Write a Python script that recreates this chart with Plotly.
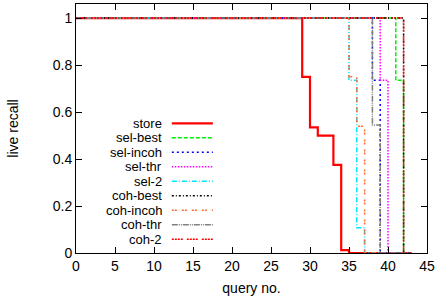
import plotly.graph_objects as go

# Step-change points (query no., live recall) for each series
store_x = [0, 29, 30, 31, 33, 34, 35, 43]
store_y = [1, 0.75, 0.535, 0.5, 0.375, 0.012, 0, 0]
selbest_x = [0, 41, 42, 43]
selbest_y = [1, 0.735, 0, 0]
selincoh_x = [0, 38, 39, 43]
selincoh_y = [1, 0.735, 0, 0]
selthr_x = [0, 39, 40, 43]
selthr_y = [1, 0.735, 0, 0]
sel2_x = [0, 35, 36, 37, 43]
sel2_y = [1, 0.735, 0.108, 0, 0]
cohbest_x = [0, 42, 43]
cohbest_y = [1, 0, 0]
cohincoh_x = [0, 35, 36, 37, 43]
cohincoh_y = [1, 0.75, 0.54, 0, 0]
cohthr_x = [0, 38, 39, 43]
cohthr_y = [1, 0.545, 0, 0]
coh2_x = [0, 42, 43]
coh2_y = [1, 0, 0]

names = ["store", "sel-best", "sel-incoh", "sel-thr", "sel-2",
         "coh-best", "coh-incoh", "coh-thr", "coh-2"]
xs = [store_x, selbest_x, selincoh_x, selthr_x, sel2_x,
      cohbest_x, cohincoh_x, cohthr_x, coh2_x]
ys = [store_y, selbest_y, selincoh_y, selthr_y, sel2_y,
      cohbest_y, cohincoh_y, cohthr_y, coh2_y]
colors = ["#ff0000", "#00ee00", "#0000ff", "#ff00ff", "#00e5ff",
          "#000000", "#ff6a2a", "#808080", "#ff0000"]
dashes = ["solid", "4px,2px", "2px,3px", "1.5px,1.5px", "5px,2px,1px,2px",
          "2px,2px,1px,2px", "2px,1px,2px,5px", "6px,1px,1px,1px,1px,1px",
          "2px,1px,2px,1px,2px,1px,2px,4px"]
widths = [2.2, 1.5, 1.5, 1.5, 1.5, 1.5, 1.5, 1.5, 1.5]

FONT = "Liberation Sans, Arial"
FS = 14

fig = go.Figure()
for n, x, y, c, d, w in zip(names, xs, ys, colors, dashes, widths):
    fig.add_trace(go.Scatter(x=x, y=y, mode="lines", name=n, line_shape="hv",
                             line=dict(color=c, dash=d, width=w),
                             showlegend=False, hoverinfo="skip"))

# Gnuplot-style legend: text on left, sample on right
row0 = 123.3
step = 14.5
plot_top, plot_h = 4.0, 249.0
for i, (n, c, d, w) in enumerate(zip(names, colors, dashes, widths)):
    ypix = row0 + i * step
    yp = (plot_top + plot_h - ypix) / plot_h
    fig.add_annotation(x=0.247, y=yp, xref="paper", yref="paper", text=n,
                       showarrow=False, xanchor="right", yanchor="middle",
                       borderpad=0,
                       font=dict(family=FONT, size=13, color="#000000"))
    fig.add_shape(type="line", xref="paper", yref="paper",
                  x0=0.273, x1=0.390, y0=yp, y1=yp,
                  line=dict(color=c, dash=d, width=w))

axis_common = dict(showgrid=False, zeroline=False, showline=True, linecolor="#000000",
                   linewidth=1, mirror="ticks", ticks="inside", ticklen=6,
                   tickcolor="#000000", tickwidth=1, automargin=False,
                   tickfont=dict(family=FONT, size=FS, color="#000000"))

fig.update_xaxes(range=[0, 45], tickvals=list(range(0, 46, 5)),
                 title=dict(text="query no.", standoff=10,
                            font=dict(family=FONT, size=FS, color="#000000")),
                 **axis_common)
fig.update_yaxes(range=[0, 1.06], tickvals=[0, 0.2, 0.4, 0.6, 0.8, 1],
                 ticktext=["0", "0.2", "0.4", "0.6", "0.8", "1"],
                 title=dict(text="live recall", standoff=30,
                            font=dict(family=FONT, size=FS, color="#000000")),
                 **axis_common)

fig.update_layout(width=435, height=301, margin=dict(l=76, r=8, t=4, b=48, autoexpand=False),
                  paper_bgcolor="#ffffff", plot_bgcolor="#ffffff", showlegend=False)

fig.write_html("out.html", config={"displayModeBar": False, "staticPlot": True},
               post_script="document.body.style.margin='0px';document.body.style.overflow='hidden';")
